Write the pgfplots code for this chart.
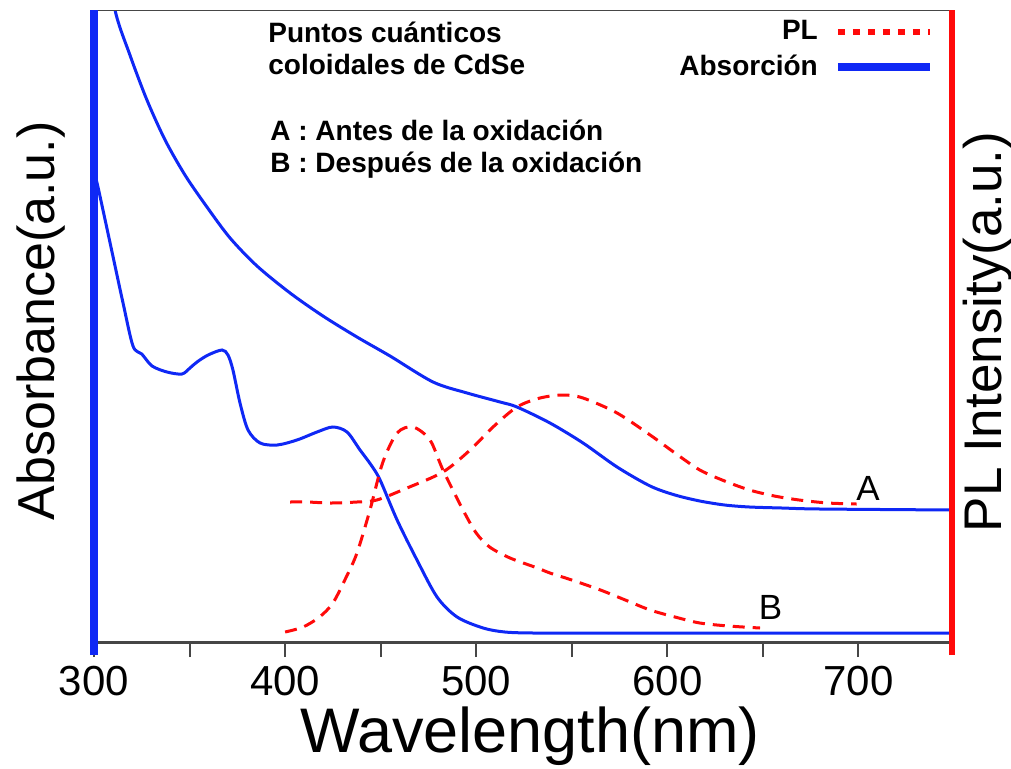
\documentclass[border=0pt]{standalone}
\usepackage{pgfplots}
\pgfplotsset{compat=1.18}
\usepackage{fontspec}
\setmainfont{Liberation Sans}
\definecolor{absblue}{RGB}{15,40,245}
\definecolor{plred}{RGB}{255,10,10}
\definecolor{axgray}{RGB}{70,70,70}

% y values are in pixel units above the bottom axis (a.u.)
\begin{document}
\begin{tikzpicture}
\useasboundingbox (-47pt,-62.5pt) rectangle (458.5pt,321.5pt);
\begin{axis}[
  scale only axis, width=430pt, height=316.5pt,
  xmin=300, xmax=750, ymin=0, ymax=633,
  axis line style={draw=none},
  xtick={300,400,...,700}, minor xtick={350,450,550,650},
  ytick=\empty, xtick pos=bottom, tick align=outside,
  major tick length=7pt, minor tick length=7pt,
  tick style={axgray, line width=1pt},
  /pgf/number format/assume math mode=true,
  /pgf/number format/1000 sep={},
  xticklabel style={font=\fontsize{21}{21}\selectfont, yshift=-1pt},
  reverse legend,
  legend plot pos=right,
  legend cell align=right,
  legend style={draw=none, fill=none, at={(rel axis cs:0.977,0.99)}, anchor=north east,
    font=\bfseries\fontsize{14}{14}\selectfont, row sep=2pt, inner sep=0pt,
    /tikz/every odd column/.append style={column sep=6pt}},
]
% absorption A (before oxidation)
\addplot[absblue, line width=1.5pt, smooth,
  legend image code/.code={\draw[absblue, line width=4pt] (0pt,0pt) -- (46pt,0pt);}]
 coordinates {(306,700)(311,633)(318.8,588)(327.7,543)(337.2,503)(347.6,468)(359.1,436)(371.2,405)
 (385.3,377)(402.6,350)(419.8,327)(437.6,306)(454.9,287)(477.4,261)(495.2,250)(512.5,241)
 (521.3,236)(538.6,220)(555.9,200)(573.7,176)(591,157)(604,148)(617,142)(630,138)
 (643,136)(660,135)(680,134)(750,133)};
\addlegendentry{Absorción}
% absorption B (after oxidation)
\addplot[absblue, line width=1.5pt, smooth, forget plot]
 coordinates {(300,470)(301.6,460)(304.7,433)(310,386)(315.2,340)(320.4,297)(325,289)(330.4,277)
 (338.2,271)(346,269)(350.2,275)(353.9,281)(359.7,288)(367,293)(370.1,288)(372.7,273)
 (376.4,240)(380.6,213)(386.9,200)(395.8,198)(406.2,203)(416.7,211)(425,216)(432.4,211)
 (439.2,193)(445,178)(449.7,163)(458.6,123)(469,83)(479.5,46)(490,26)(503.6,15)(515,11)
 (530,10)(565,10)(750,10)};
% PL A
\addplot[plred, line width=1.5pt, dash pattern=on 6pt off 4pt, smooth,
  legend image code/.code={\draw[plred, line width=3pt, dash pattern=on 3.5pt off 4pt] (0pt,0pt) -- (46pt,0pt);}]
 coordinates {(402.6,141)(411.5,141)(424,140)(437.6,141)(448,143)(463.8,155)(482.6,171)(496.8,193)
 (508.8,216)(521.3,236)(533.4,245)(545.4,248)(555.9,245)(573.7,230)(591,208)(604,190)
 (617,173)(630,162)(643,153)(656,147)(669,143)(684,140)(699,139)};
\addlegendentry{PL}
% PL B
\addplot[plred, line width=1.5pt, dash pattern=on 6pt off 4pt, smooth, forget plot]
 coordinates {(400,11)(409.4,16)(418,26)(425,40)(432,66)(437.6,90)(444.4,133)(451,180)
 (458.6,210)(466.9,216)(475.8,203)(482.6,173)(493.1,133)(500,110)(507,96)
 (517.7,85)(532,75)(538.6,70)(550,63)(565,53)(578,43)(591,33)(604,26)(617,20)(632,17)(648.5,15)};
% curve labels
\node[font=\fontsize{17.5}{17.5}\selectfont] at (axis cs:705,155) {A};
\node[font=\fontsize{17.5}{17.5}\selectfont] at (axis cs:654,36) {B};
% frame
\draw[axgray, line width=1pt] (rel axis cs:0,1) -- (rel axis cs:1,1);
\draw[axgray, line width=2.5pt] (rel axis cs:0,0) -- (rel axis cs:1,0);
\end{axis}
% side bars
\draw[absblue, line width=4pt] (0,-6pt) -- (0,316.5pt);
\draw[plred, line width=3pt] (429pt,-6pt) -- (429pt,316.5pt);
% annotation
\begin{scope}[every node/.style={font=\bfseries\fontsize{14}{14}\selectfont, anchor=base west, inner sep=0pt}]
\node at (87pt,300.5pt) {Puntos cuánticos};
\node at (87pt,284.5pt) {coloidales de CdSe};
\node at (88pt,251.5pt) {A : Antes de la oxidación};
\node at (88pt,235.5pt) {B : Después de la oxidación};
\end{scope}
% axis titles
\node[font=\fontsize{31.5}{31.5}\selectfont, anchor=base] at (218pt,-54.5pt) {Wavelength(nm)};
\node[font=\fontsize{26}{26}\selectfont, anchor=base, rotate=90] at (-19.5pt,161pt) {Absorbance(a.u.)};
\node[font=\fontsize{26.5}{26.5}\selectfont, anchor=base, rotate=90] at (453.5pt,155.5pt) {PL Intensity(a.u.)};
\end{tikzpicture}
\end{document}
